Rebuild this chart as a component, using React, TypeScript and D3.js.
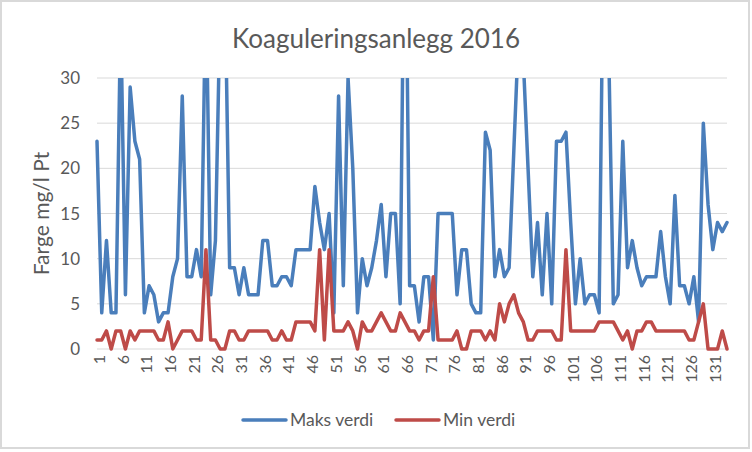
import React from 'react';
import * as d3 from 'd3';

// daily colour readings, Koaguleringsanlegg 2016
const maksVerdi = [
  23, 4, 12, 4, 4, 37, 6, 29, 23, 21, 4, 7, 6, 3, 4, 4, 8, 10, 28, 8,
  8, 11, 8, 41, 6, 12, 38, 41, 9, 9, 6, 9, 6, 6, 6, 12, 12, 7, 7, 8,
  8, 7, 11, 11, 11, 11, 18, 14, 11, 15, 4, 28, 7, 30, 20, 4, 10, 7, 9, 12,
  16, 8, 15, 15, 5, 55, 7, 7, 3, 8, 8, 1, 15, 15, 15, 15, 6, 11, 11, 5,
  4, 4, 24, 22, 8, 11, 8, 9, 22, 35, 32, 20, 8, 14, 6, 15, 5, 23, 23, 24,
  14, 5, 10, 5, 6, 6, 4, 50, 34, 5, 6, 23, 9, 12, 9, 7, 8, 8, 8, 13,
  8, 5, 17, 7, 7, 5, 8, 3, 25, 16, 11, 14, 13, 14,
];
const minVerdi = [
  1, 1, 2, 0, 2, 2, 0, 2, 1, 2, 2, 2, 2, 1, 1, 3, 0, 1, 2, 2,
  2, 1, 1, 11, 1, 1, 0, 0, 2, 2, 1, 1, 2, 2, 2, 2, 2, 1, 1, 2,
  1, 1, 3, 3, 3, 3, 2, 11, 1, 11, 2, 2, 2, 3, 2, 0, 3, 2, 2, 3,
  4, 3, 2, 2, 4, 3, 2, 2, 1, 2, 2, 8, 1, 1, 1, 1, 2, 0, 0, 2,
  2, 2, 1, 2, 1, 5, 3, 5, 6, 4, 3, 1, 1, 2, 2, 2, 2, 1, 1, 11,
  2, 2, 2, 2, 2, 2, 3, 3, 3, 3, 2, 1, 2, 0, 2, 2, 3, 3, 2, 2,
  2, 2, 2, 2, 2, 1, 1, 3, 5, 0, 0, 0, 2, 0,
];
const days = maksVerdi.map((_, i) => i + 1);
const yTicks = [0, 5, 10, 15, 20, 25, 30];

const W = 752;
const H = 452;
const left = 97, right = 727, top = 78, bottom = 349;
const font = 'Lato, "Noto Sans", sans-serif';
const textColor = '#595959';

export default function App() {
  const x = d3.scalePoint<number>().domain(days).range([left, right]);
  const y = d3.scaleLinear().domain([0, 30]).range([bottom, top]);
  const line = d3.line<number>().x((_, i) => x(days[i])!).y(d => y(d));

  const series = [
    { name: 'Maks verdi', values: maksVerdi, color: '#4a7ebb' },
    { name: 'Min verdi', values: minVerdi, color: '#be4b48' },
  ];

  return (
    <svg width={W} height={H} style={{ position: 'absolute', left: 0, top: 0, background: '#fff' }}>
      <defs>
        <clipPath id="plot">
          <rect x={left - 5} y={top} width={right - left + 10} height={bottom - top + 5} />
        </clipPath>
      </defs>
      <rect x={1} y={1} width={W - 4} height={H - 5} fill="#fff" stroke="#d9d9d9" strokeWidth={2} />

      <text x={376} y={48} textAnchor="middle" fontFamily={font} fontSize={26} fill={textColor}>
        Koaguleringsanlegg 2016
      </text>

      {yTicks.map(t => (
        <g key={t}>
          <line x1={left} x2={right} y1={y(t)} y2={y(t)} stroke="#d9d9d9" strokeWidth={1} />
          <text x={80} y={y(t)} dy="0.36em" textAnchor="end" fontFamily={font} fontSize={17} fill={textColor}>
            {t}
          </text>
        </g>
      ))}

      {days.filter(d => (d - 1) % 5 === 0).map(d => (
        <text
          key={d}
          transform={`translate(${x(d)! + 8},${bottom + 6}) rotate(-90)`}
          textAnchor="end"
          fontFamily={font}
          fontSize={16}
          fill={textColor}
        >
          {d}
        </text>
      ))}

      <text
        transform={`translate(49,${(top + bottom) / 2}) rotate(-90)`}
        textAnchor="middle"
        fontFamily={font}
        fontSize={21}
        fill={textColor}
      >
        Farge mg/l Pt
      </text>

      <g clipPath="url(#plot)">
        {series.map(s => (
          <path
            key={s.name}
            d={line(s.values)!}
            fill="none"
            stroke={s.color}
            strokeWidth={3.5}
            strokeLinejoin="round"
            strokeLinecap="round"
          />
        ))}
      </g>

      {series.map((s, i) => {
        const lx = i === 0 ? 243 : 396;
        return (
          <g key={s.name}>
            <line x1={lx} x2={lx + 43} y1={420} y2={420} stroke={s.color} strokeWidth={3.5} strokeLinecap="round" />
            <text x={lx + 47} y={420} dy="0.36em" fontFamily={font} fontSize={17.5} fill={textColor}>
              {s.name}
            </text>
          </g>
        );
      })}
    </svg>
  );
}
